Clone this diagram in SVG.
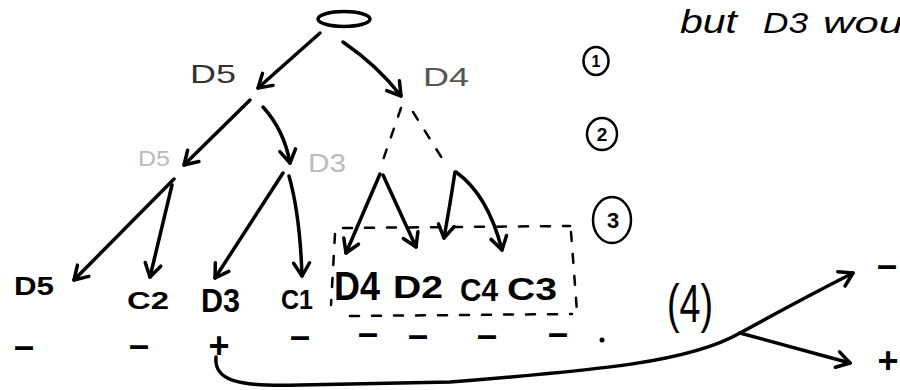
<svg xmlns="http://www.w3.org/2000/svg" width="900" height="390" viewBox="0 0 900 390">
<style>
.e{fill:none;stroke:#000;stroke-width:3.5;stroke-linecap:round;stroke-linejoin:round}
.d{fill:none;stroke:#000;stroke-width:2.5;stroke-linecap:round;stroke-dasharray:9 13}
.lf{font-family:"Liberation Sans",Arial,sans-serif;font-weight:bold;fill:#000}
.fa{font-family:"Liberation Sans",Arial,sans-serif;font-weight:normal}
.sg{font-family:"Liberation Sans",Arial,sans-serif;font-size:36px;font-weight:bold;fill:#000;text-anchor:middle}
.cn{fill:none;stroke:#000;stroke-width:2.5}
.nt{font-family:"Liberation Sans",Arial,sans-serif;font-weight:bold;fill:#000;text-anchor:middle}
</style>
<defs>
<marker id="ah" viewBox="-16 -11 18 22" markerWidth="18" markerHeight="22" refX="0" refY="0" orient="auto" markerUnits="userSpaceOnUse" overflow="visible">
<path d="M-13,-8 L0,0 L-13,8" fill="none" stroke="#000" stroke-width="3.5" stroke-linecap="round" stroke-linejoin="round"/>
</marker>
</defs>
<rect width="900" height="390" fill="#fff"/>

<g id="note">
<text class="fa" font-size="34" font-style="italic" x="680" y="33" fill="#000" textLength="57" lengthAdjust="spacingAndGlyphs">but</text>
<text class="fa" font-size="30" font-style="italic" x="763" y="33" fill="#000" textLength="45" lengthAdjust="spacingAndGlyphs">D3</text>
<text class="fa" font-size="30" font-style="italic" x="823" y="33" fill="#000" textLength="80" lengthAdjust="spacingAndGlyphs">wou</text>
</g>

<g id="root"><ellipse cx="344" cy="19" rx="26" ry="7.5" class="e"/></g>

<g id="lbl-d5"><text class="fa" x="190" y="83" font-size="26" fill="#333" textLength="46" lengthAdjust="spacingAndGlyphs">D5</text></g>
<g id="lbl-d4"><text class="fa" x="423" y="86" font-size="26" fill="#555" textLength="46" lengthAdjust="spacingAndGlyphs">D4</text></g>
<g id="lbl-d5b"><text class="fa" x="138" y="166" font-size="22" fill="#bbb" textLength="32" lengthAdjust="spacingAndGlyphs">D5</text></g>
<g id="lbl-d3b"><text class="fa" x="308" y="172" font-size="26" fill="#bbb" textLength="38" lengthAdjust="spacingAndGlyphs">D3</text></g>

<g id="step1"><ellipse cx="596" cy="61" rx="12.5" ry="14" class="cn"/><text class="nt" x="596" y="67" font-size="16">1</text></g>
<g id="step2"><ellipse cx="602" cy="134" rx="15" ry="16" class="cn"/><text class="nt" x="602" y="141" font-size="19">2</text></g>
<g id="step3"><ellipse cx="612" cy="220" rx="19" ry="23" class="cn"/><text class="nt" x="613" y="228" font-size="22">3</text></g>

<g id="leaf-d5"><text class="lf" x="14" y="295" font-size="25" textLength="40" lengthAdjust="spacingAndGlyphs">D5</text><text class="sg" x="24" y="358">–</text></g>
<g id="leaf-c2"><text class="lf" x="127" y="309" font-size="24" textLength="42" lengthAdjust="spacingAndGlyphs">C2</text><text class="sg" x="139" y="357">–</text></g>
<g id="leaf-d3"><text class="lf" x="201" y="312" font-size="33" textLength="39" lengthAdjust="spacingAndGlyphs">D3</text><text class="sg" x="219" y="358" font-size="40">+</text></g>
<g id="leaf-c1"><text class="lf" x="281" y="309" font-size="27" textLength="32" lengthAdjust="spacingAndGlyphs">C1</text><text class="sg" x="300" y="348">–</text></g>
<g id="leaf-d4"><text class="lf" x="334" y="300" font-size="40" textLength="46" lengthAdjust="spacingAndGlyphs">D4</text><text class="sg" x="368" y="345">–</text></g>
<g id="leaf-d2"><text class="lf" x="393" y="298" font-size="32" textLength="50" lengthAdjust="spacingAndGlyphs">D2</text><text class="sg" x="418" y="347">–</text></g>
<g id="leaf-c4"><text class="lf" x="460" y="301" font-size="32" textLength="38" lengthAdjust="spacingAndGlyphs">C4</text><text class="sg" x="487" y="347">–</text></g>
<g id="leaf-c3"><text class="lf" x="507" y="300" font-size="32" textLength="50" lengthAdjust="spacingAndGlyphs">C3</text><text class="sg" x="558" y="345">–</text></g>

<g id="step4"><text class="fa" x="667" y="322" font-size="54" textLength="46" lengthAdjust="spacingAndGlyphs">(4)</text></g>
<g id="out-minus"><text class="sg" x="887" y="277">–</text></g>
<g id="out-plus"><text class="sg" x="888" y="373" font-size="40">+</text></g>
<g id="dot"><circle cx="602" cy="340" r="2.5" fill="#000"/></g>

<g id="connectors">
<path class="e" d="M320,33 Q292,58 258,88" marker-end="url(#ah)"/>
<path class="e" d="M343,42 Q378,66 401,96" marker-end="url(#ah)"/>
<path class="e" d="M250,100 L184,165" marker-end="url(#ah)"/>
<path class="e" d="M263,107 Q284,130 290,163" marker-end="url(#ah)"/>
<path class="e" d="M174,179 L74,280" marker-end="url(#ah)"/>
<path class="e" d="M172,185 L150,277" marker-end="url(#ah)"/>
<path class="e" d="M283,173 L215,278" marker-end="url(#ah)"/>
<path class="e" d="M289,176 Q300,215 302,276" marker-end="url(#ah)"/>
<path class="d" d="M401,108 L383,160"/>
<path class="d" d="M413,112 L445,163"/>
<path class="e" d="M380,174 L346,253" marker-end="url(#ah)"/>
<path class="e" d="M383,175 L416,247" marker-end="url(#ah)"/>
<path class="e" d="M455,172 Q450,205 444,238" marker-end="url(#ah)"/>
<path class="e" d="M456,172 Q488,195 502,250" marker-end="url(#ah)"/>
<path class="d" d="M343,228 L570,226"/>
<path class="d" d="M571,232 L577,312"/>
<path class="d" d="M350,316 L572,314"/>
<path class="d" d="M335,234 L331,305"/>
<path class="e" d="M216,357 C214,380 235,387 300,385 L450,382 C600,370 690,362 740,333"/>
<path class="e" d="M740,333 Q800,300 853,273" marker-end="url(#ah)"/>
<path class="e" d="M740,333 L850,363" marker-end="url(#ah)"/>
</g>
</svg>
